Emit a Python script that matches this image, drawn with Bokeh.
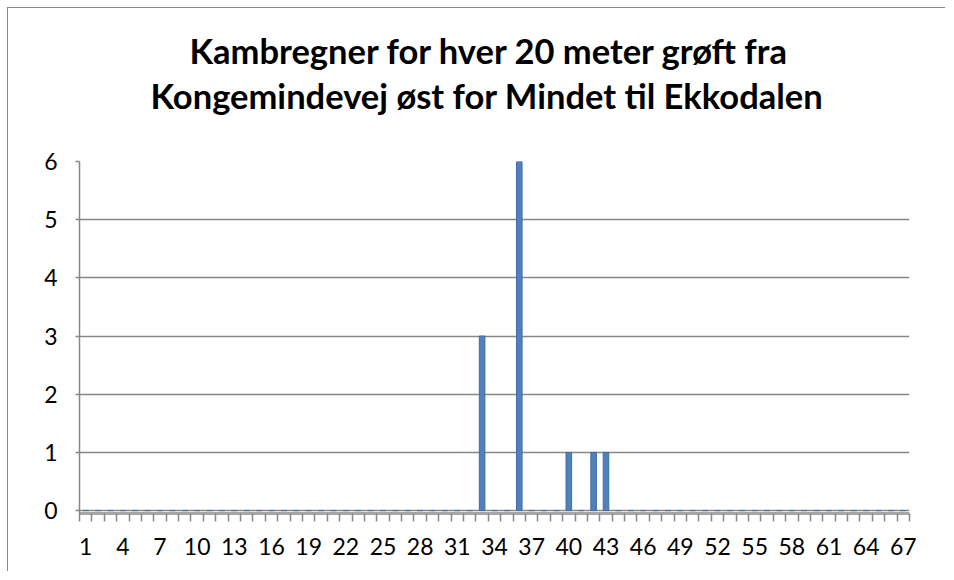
from bokeh.plotting import figure
from bokeh.models import Range1d, FixedTicker, Title
from bokeh.embed import file_html
from bokeh.resources import INLINE

title_lines = ["Kambregner for hver 20 meter grøft fra",
               "Kongemindevej øst for Mindet til Ekkodalen"]
categories = list(range(1, 68))
values = [0, 0, 0, 0, 0, 0, 0, 0, 0, 0,
          0, 0, 0, 0, 0, 0, 0, 0, 0, 0,
          0, 0, 0, 0, 0, 0, 0, 0, 0, 0,
          0, 0, 3, 0, 0, 6, 0, 0, 0, 1,
          0, 1, 1, 0, 0, 0, 0, 0, 0, 0,
          0, 0, 0, 0, 0, 0, 0, 0, 0, 0,
          0, 0, 0, 0, 0, 0, 0]
x_tick_labels = categories[::3]
y_ticks = [0, 1, 2, 3, 4, 5, 6]

FONT = "Lato"
GRAY = "#878787"

p = figure(width=938, height=564, output_backend="svg", toolbar_location=None,
           title=None,
           x_range=Range1d(0.5, 67.5), y_range=Range1d(-0.05, 6),
           min_border_left=71, min_border_right=37, min_border_top=153,
           min_border_bottom=59)
p.styles = {"margin-left": "7px", "margin-top": "7px",
            "border-left": "1px solid #8a8a8a", "border-top": "1px solid #8a8a8a"}
p.outline_line_color = None
p.background_fill_color = "white"


def make_title(text, offset, standoff, size="34.5px"):
    return Title(text=text, align="left", offset=offset, standoff=standoff,
                 text_font=FONT, text_font_style="bold", text_font_size=size,
                 text_color="black")


# items added first sit nearest to the plot area
p.add_layout(make_title(" ", 0, 42, size="1px"), "above")   # invisible spacer
p.add_layout(make_title(title_lines[1], 71, 2), "above")
p.add_layout(make_title(title_lines[0], 110, 2), "above")

p.vbar(x=categories, top=values, width=0.45, bottom=0,
       fill_color="#4F81BD", line_color="#3F6CA6", line_width=1)

# x axis
xa = p.xaxis[0]
xa.ticker = FixedTicker(ticks=x_tick_labels,
                        minor_ticks=[c - 0.5 for c in categories] + [categories[-1] + 0.5])
xa.axis_line_color = "#A6A6A6"
xa.axis_line_width = 3
xa.major_tick_line_color = None
xa.major_tick_out = 0
xa.major_tick_in = 0
xa.minor_tick_line_color = GRAY
xa.minor_tick_line_width = 1.5
xa.minor_tick_out = 8
xa.minor_tick_in = 0
xa.major_label_text_font = FONT
xa.major_label_text_font_size = "23px"
xa.major_label_text_color = "black"
xa.major_label_standoff = 16

# y axis
ya = p.yaxis[0]
ya.ticker = FixedTicker(ticks=y_ticks, minor_ticks=[])
ya.axis_line_color = GRAY
ya.axis_line_width = 1.5
ya.major_tick_line_color = GRAY
ya.major_tick_line_width = 1.5
ya.major_tick_out = 4
ya.major_tick_in = 0
ya.minor_tick_line_color = None
ya.major_label_text_font = FONT
ya.major_label_text_font_size = "23px"
ya.major_label_text_color = "black"
ya.major_label_standoff = 18

p.xgrid.grid_line_color = None
p.ygrid.ticker = FixedTicker(ticks=y_ticks)
p.ygrid.grid_line_color = GRAY
p.ygrid.grid_line_width = 1.5

open("out.html", "w").write(file_html(p, INLINE))
